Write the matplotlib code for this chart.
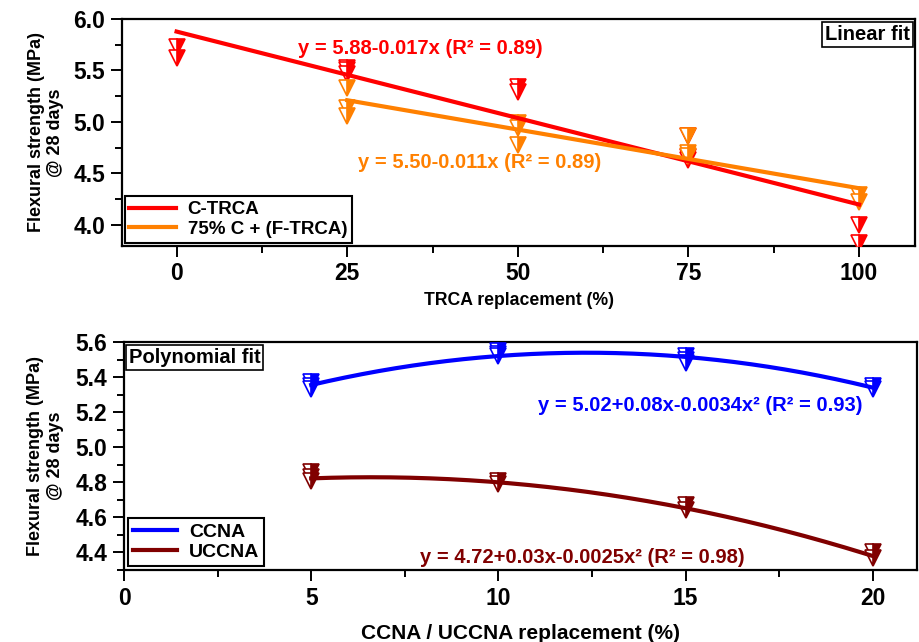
import numpy as np
import matplotlib
matplotlib.use("Agg")
import matplotlib.pyplot as plt
from matplotlib.ticker import MultipleLocator, FormatStrFormatter

plt.rcParams['font.family'] = ['Liberation Sans', 'DejaVu Sans']
plt.rcParams['font.weight'] = 'bold'

# ---- Linear-fit panel data (TRCA replacement) ----
trca_x = [0, 25, 50, 75, 100]
ctrca_reps = [[5.73, 5.62], [5.52, 5.50, 5.47], [5.34, 5.29], [4.86, 4.66, 4.63], [4.00, 3.82]]
ftrca_x = [25, 50, 75, 100]
ftrca_reps = [[5.33, 5.14, 5.06], [4.99, 4.94, 4.78], [4.86, 4.70, 4.67], [4.29, 4.22]]
ctrca_fit = (5.878, -0.0168, 0.89)   # intercept, slope, R2
ftrca_fit = (5.496, -0.0114, 0.89)

# ---- Polynomial-fit panel data (CCNA / UCCNA replacement) ----
cna_x = [5, 10, 15, 20]
ccna_reps = [[5.37, 5.35, 5.33], [5.55, 5.53, 5.52], [5.52, 5.50, 5.48], [5.35, 5.33]]
uccna_reps = [[4.86, 4.83, 4.81], [4.81, 4.79], [4.67, 4.64], [4.40, 4.37]]
ccna_fit = (5.02, 0.084, -0.0034, 0.93)   # b0, b1, b2, R2
uccna_fit = (4.72, 0.033, -0.0025, 0.98)

RED, ORANGE, BLUE, BROWN = '#FF0000', '#FF8000', '#0000FF', '#800000'
EQ_SIZE = 14.5
BOX_SIZE = 14.5

fig = plt.figure(figsize=(9.2, 6.42), dpi=100)
ax1 = fig.add_axes([0.1326, 0.6176, 0.862, 0.3528])
ax2 = fig.add_axes([0.1348, 0.1121, 0.8614, 0.3552])


def plot_reps(ax, xs, reps, color):
    for x, ys in zip(xs, reps):
        ax.plot([x] * len(ys), ys, ls='none', marker='v', ms=11.5, mew=1.2,
                fillstyle='right', color=color, markerfacecoloralt='white',
                zorder=3)


def style_axes(ax):
    for s in ax.spines.values():
        s.set_linewidth(1.6)
    ax.tick_params(which='both', direction='out', top=False, right=False, width=1.4,
                   labelsize=16.5, pad=4)
    ax.tick_params(which='major', length=8)
    ax.tick_params(which='minor', length=5)
    for lab in ax.get_xticklabels() + ax.get_yticklabels():
        lab.set_fontweight('bold')


# ---- Top panel ----
plot_reps(ax1, trca_x, ctrca_reps, RED)
plot_reps(ax1, ftrca_x, ftrca_reps, ORANGE)
xl = np.array([0, 100])
ax1.plot(xl, ctrca_fit[0] + ctrca_fit[1] * xl, color=RED, lw=3, label='C-TRCA', zorder=4)
xo = np.array([25, 100])
ax1.plot(xo, ftrca_fit[0] + ftrca_fit[1] * xo, color=ORANGE, lw=3,
         label='75% C + (F-TRCA)', zorder=4)

ax1.text(35.7, 5.71, f"y = {ctrca_fit[0]:.2f}{ctrca_fit[1]:.3f}x (R² = {ctrca_fit[2]:.2f})",
         color=RED, fontsize=EQ_SIZE, fontweight='bold', ha='center', va='center')
ax1.text(44.4, 4.61, f"y = {ftrca_fit[0]:.2f}{ftrca_fit[1]:.3f}x (R² = {ftrca_fit[2]:.2f})",
         color=ORANGE, fontsize=EQ_SIZE, fontweight='bold', ha='center', va='center')

ax1.set_xlim(-8, 108.2)
ax1.set_ylim(3.8, 6.0)
ax1.xaxis.set_major_locator(MultipleLocator(25))
ax1.xaxis.set_minor_locator(MultipleLocator(12.5))
ax1.yaxis.set_major_locator(MultipleLocator(0.5))
ax1.yaxis.set_minor_locator(MultipleLocator(0.25))
ax1.yaxis.set_major_formatter(FormatStrFormatter('%.1f'))
style_axes(ax1)
ax1.set_xlabel('TRCA replacement (%)', fontsize=12.7, fontweight='bold', labelpad=5)
ax1.set_ylabel('Flexural strength (MPa)\n@ 28 days', fontsize=13, fontweight='bold')
ax1.yaxis.set_label_coords(-0.073, 0.5)
leg1 = ax1.legend(loc='lower left', fancybox=False, edgecolor='black', framealpha=1,
                  prop={'weight': 'bold', 'size': 13.5}, handlelength=2.5,
                  borderaxespad=0.15, borderpad=0.25, labelspacing=0.15, handletextpad=0.6)
leg1.get_frame().set_linewidth(1.5)
ax1.text(0.993, 0.972, 'Linear fit', transform=ax1.transAxes, ha='right', va='top',
         fontsize=BOX_SIZE, fontweight='bold',
         bbox=dict(boxstyle='square,pad=0.15', fc='white', ec='black', lw=1.2))

# ---- Bottom panel ----
plot_reps(ax2, cna_x, ccna_reps, BLUE)
plot_reps(ax2, cna_x, uccna_reps, BROWN)
xc = np.linspace(5, 20, 200)
ax2.plot(xc, ccna_fit[0] + ccna_fit[1] * xc + ccna_fit[2] * xc ** 2, color=BLUE, lw=3,
         label='CCNA', zorder=4)
ax2.plot(xc, uccna_fit[0] + uccna_fit[1] * xc + uccna_fit[2] * xc ** 2, color=BROWN, lw=3,
         label='UCCNA', zorder=4)

ax2.text(15.38, 5.24,
         f"y = {ccna_fit[0]:.2f}+{ccna_fit[1]:.2f}x{ccna_fit[2]:.4f}x² (R² = {ccna_fit[3]:.2f})",
         color=BLUE, fontsize=EQ_SIZE, fontweight='bold', ha='center', va='center')
ax2.text(12.25, 4.37,
         f"y = {uccna_fit[0]:.2f}+{uccna_fit[1]:.2f}x{uccna_fit[2]:.4f}x² (R² = {uccna_fit[3]:.2f})",
         color=BROWN, fontsize=EQ_SIZE, fontweight='bold', ha='center', va='center')

ax2.set_xlim(0, 21.17)
ax2.set_ylim(4.3, 5.6)
ax2.xaxis.set_major_locator(MultipleLocator(5))
ax2.xaxis.set_minor_locator(MultipleLocator(2.5))
ax2.yaxis.set_major_locator(MultipleLocator(0.2))
ax2.yaxis.set_minor_locator(MultipleLocator(0.1))
ax2.yaxis.set_major_formatter(FormatStrFormatter('%.1f'))
style_axes(ax2)
ax2.set_xlabel('CCNA / UCCNA replacement (%)', fontsize=15, fontweight='bold', labelpad=10)
ax2.set_ylabel('Flexural strength (MPa)\n@ 28 days', fontsize=13, fontweight='bold')
ax2.yaxis.set_label_coords(-0.0757, 0.5)
leg2 = ax2.legend(loc='lower left', fancybox=False, edgecolor='black', framealpha=1,
                  prop={'weight': 'bold', 'size': 14}, handlelength=2.3,
                  borderaxespad=0.2, borderpad=0.25, labelspacing=0.15, handletextpad=0.6)
leg2.get_frame().set_linewidth(1.5)
ax2.text(0.006, 0.972, 'Polynomial fit', transform=ax2.transAxes, ha='left', va='top',
         fontsize=BOX_SIZE, fontweight='bold',
         bbox=dict(boxstyle='square,pad=0.15', fc='white', ec='black', lw=1.2))

fig.savefig('out.png', dpi=100)
